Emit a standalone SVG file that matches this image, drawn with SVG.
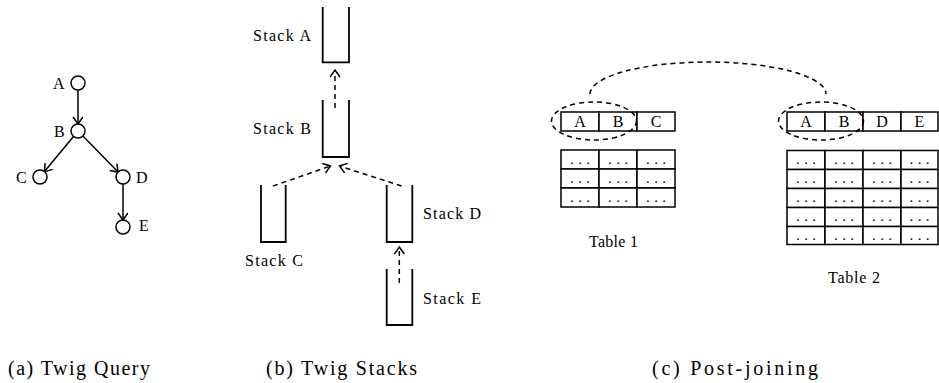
<svg xmlns="http://www.w3.org/2000/svg" width="939" height="383" viewBox="0 0 939 383">
<style>
text{font-family:"Liberation Serif","DejaVu Serif",serif;fill:#000}
.lbl{font-size:16px}
.cap{font-size:20px}
.cell{font-size:16px;text-anchor:middle}
.dots{font-size:15px;text-anchor:middle}
.node{fill:#fff;stroke:#000;stroke-width:1.5}
.edge{fill:none;stroke:#000;stroke-width:1.5}
.dash{fill:none;stroke:#000;stroke-width:1.5;stroke-dasharray:5,4}
.stk{fill:none;stroke:#000;stroke-width:1.8}
.box{fill:#fff;stroke:#000;stroke-width:1.5}
</style>
<defs>
<marker id="ah" markerUnits="userSpaceOnUse" markerWidth="12" markerHeight="12" refX="8" refY="5" orient="auto" viewBox="0 0 12 12">
<path d="M1,0 L8,5 L1,10" fill="none" stroke="#000" stroke-width="1.5"/>
</marker>
</defs>
<rect width="939" height="383" fill="#fff"/>

<g id="connectors">
<line class="edge" x1="78" y1="90" x2="78" y2="124" marker-end="url(#ah)"/>
<line class="edge" x1="73.5" y1="136.4" x2="44.5" y2="171.6" marker-end="url(#ah)"/>
<line class="edge" x1="82.9" y1="136" x2="118.1" y2="172" marker-end="url(#ah)"/>
<line class="edge" x1="123" y1="184" x2="123" y2="220" marker-end="url(#ah)"/>
<line class="dash" x1="335" y1="108" x2="335" y2="70" marker-end="url(#ah)"/>
<line class="dash" x1="273" y1="186" x2="330.5" y2="166" marker-end="url(#ah)"/>
<line class="dash" x1="401.7" y1="186" x2="339.5" y2="166" marker-end="url(#ah)"/>
<line class="dash" x1="399.3" y1="283" x2="399.3" y2="247" marker-end="url(#ah)"/>
<path class="dash" d="M590,94 A118,32 0 0 1 826,94"/>
</g>

<g id="nodeA"><circle class="node" cx="78" cy="83" r="7"/><text class="lbl" x="53" y="89">A</text></g>
<g id="nodeB"><circle class="node" cx="78" cy="131" r="7"/><text class="lbl" x="54" y="137">B</text></g>
<g id="nodeC"><circle class="node" cx="40" cy="177" r="7"/><text class="lbl" x="16" y="183">C</text></g>
<g id="nodeD"><circle class="node" cx="123" cy="177" r="7"/><text class="lbl" x="136" y="183">D</text></g>
<g id="nodeE"><circle class="node" cx="123" cy="227" r="7"/><text class="lbl" x="139" y="231">E</text></g>

<g id="stackA"><path class="stk" d="M322.7,7 V62.3 H349 V7"/><text class="lbl" x="253" y="41" textLength="58" lengthAdjust="spacing">Stack A</text></g>
<g id="stackB"><path class="stk" d="M322.7,100 V157 H349 V100"/><text class="lbl" x="253" y="134" textLength="58" lengthAdjust="spacing">Stack B</text></g>
<g id="stackC"><path class="stk" d="M261,185 V242 H285.7 V185"/><text class="lbl" x="245" y="266" textLength="58" lengthAdjust="spacing">Stack C</text></g>
<g id="stackD"><path class="stk" d="M386.7,185 V242 H412.3 V185"/><text class="lbl" x="423" y="219" textLength="58" lengthAdjust="spacing">Stack D</text></g>
<g id="stackE"><path class="stk" d="M386.7,269 V325 H412.3 V269"/><text class="lbl" x="423" y="304" textLength="58" lengthAdjust="spacing">Stack E</text></g>

<g id="table1">
<rect class="box" x="561" y="112" width="38" height="19"/>
<rect class="box" x="599" y="112" width="38" height="19"/>
<rect class="box" x="637" y="112" width="38" height="19"/>
<text class="cell" x="580" y="127">A</text><text class="cell" x="618" y="127">B</text><text class="cell" x="656" y="127">C</text>
<g>
<rect class="box" x="561" y="150" width="38" height="19"/><rect class="box" x="599" y="150" width="38" height="19"/><rect class="box" x="637" y="150" width="38" height="19"/>
<rect class="box" x="561" y="169" width="38" height="19"/><rect class="box" x="599" y="169" width="38" height="19"/><rect class="box" x="637" y="169" width="38" height="19"/>
<rect class="box" x="561" y="188" width="38" height="19"/><rect class="box" x="599" y="188" width="38" height="19"/><rect class="box" x="637" y="188" width="38" height="19"/>
</g>
<g class="dots">
<text x="580" y="164" textLength="20">...</text><text x="618" y="164" textLength="20">...</text><text x="656" y="164" textLength="20">...</text>
<text x="580" y="183" textLength="20">...</text><text x="618" y="183" textLength="20">...</text><text x="656" y="183" textLength="20">...</text>
<text x="580" y="202" textLength="20">...</text><text x="618" y="202" textLength="20">...</text><text x="656" y="202" textLength="20">...</text>
</g>
<ellipse class="dash" cx="594" cy="121" rx="42.5" ry="19"/>
<text class="lbl" x="589" y="247" textLength="49" lengthAdjust="spacing">Table 1</text>
</g>

<g id="table2">
<rect class="box" x="787" y="112" width="38" height="19"/>
<rect class="box" x="825" y="112" width="38" height="19"/>
<rect class="box" x="863" y="112" width="38" height="19"/>
<rect class="box" x="901" y="112" width="37" height="19"/>
<text class="cell" x="806" y="127">A</text><text class="cell" x="844" y="127">B</text><text class="cell" x="882" y="127">D</text><text class="cell" x="919.5" y="127">E</text>
<g>
<rect class="box" x="787" y="150.5" width="38" height="19"/><rect class="box" x="825" y="150.5" width="38" height="19"/><rect class="box" x="863" y="150.5" width="38" height="19"/><rect class="box" x="901" y="150.5" width="37" height="19"/>
<rect class="box" x="787" y="169.5" width="38" height="19"/><rect class="box" x="825" y="169.5" width="38" height="19"/><rect class="box" x="863" y="169.5" width="38" height="19"/><rect class="box" x="901" y="169.5" width="37" height="19"/>
<rect class="box" x="787" y="188.5" width="38" height="19"/><rect class="box" x="825" y="188.5" width="38" height="19"/><rect class="box" x="863" y="188.5" width="38" height="19"/><rect class="box" x="901" y="188.5" width="37" height="19"/>
<rect class="box" x="787" y="207.5" width="38" height="19"/><rect class="box" x="825" y="207.5" width="38" height="19"/><rect class="box" x="863" y="207.5" width="38" height="19"/><rect class="box" x="901" y="207.5" width="37" height="19"/>
<rect class="box" x="787" y="226.5" width="38" height="18"/><rect class="box" x="825" y="226.5" width="38" height="18"/><rect class="box" x="863" y="226.5" width="38" height="18"/><rect class="box" x="901" y="226.5" width="37" height="18"/>
</g>
<g class="dots">
<text x="806" y="164" textLength="20">...</text><text x="844" y="164" textLength="20">...</text><text x="882" y="164" textLength="20">...</text><text x="919.5" y="164" textLength="20">...</text>
<text x="806" y="183" textLength="20">...</text><text x="844" y="183" textLength="20">...</text><text x="882" y="183" textLength="20">...</text><text x="919.5" y="183" textLength="20">...</text>
<text x="806" y="202" textLength="20">...</text><text x="844" y="202" textLength="20">...</text><text x="882" y="202" textLength="20">...</text><text x="919.5" y="202" textLength="20">...</text>
<text x="806" y="221" textLength="20">...</text><text x="844" y="221" textLength="20">...</text><text x="882" y="221" textLength="20">...</text><text x="919.5" y="221" textLength="20">...</text>
<text x="806" y="240" textLength="20">...</text><text x="844" y="240" textLength="20">...</text><text x="882" y="240" textLength="20">...</text><text x="919.5" y="240" textLength="20">...</text>
</g>
<ellipse class="dash" cx="821" cy="121" rx="42.5" ry="19"/>
<text class="lbl" x="828" y="283" textLength="52" lengthAdjust="spacing">Table 2</text>
</g>

<text class="cap" x="8" y="375" textLength="142" lengthAdjust="spacing">(a) Twig Query</text>
<text class="cap" x="266" y="375" textLength="151" lengthAdjust="spacing">(b) Twig Stacks</text>
<text class="cap" x="652" y="375" textLength="166" lengthAdjust="spacing">(c) Post-joining</text>
</svg>
